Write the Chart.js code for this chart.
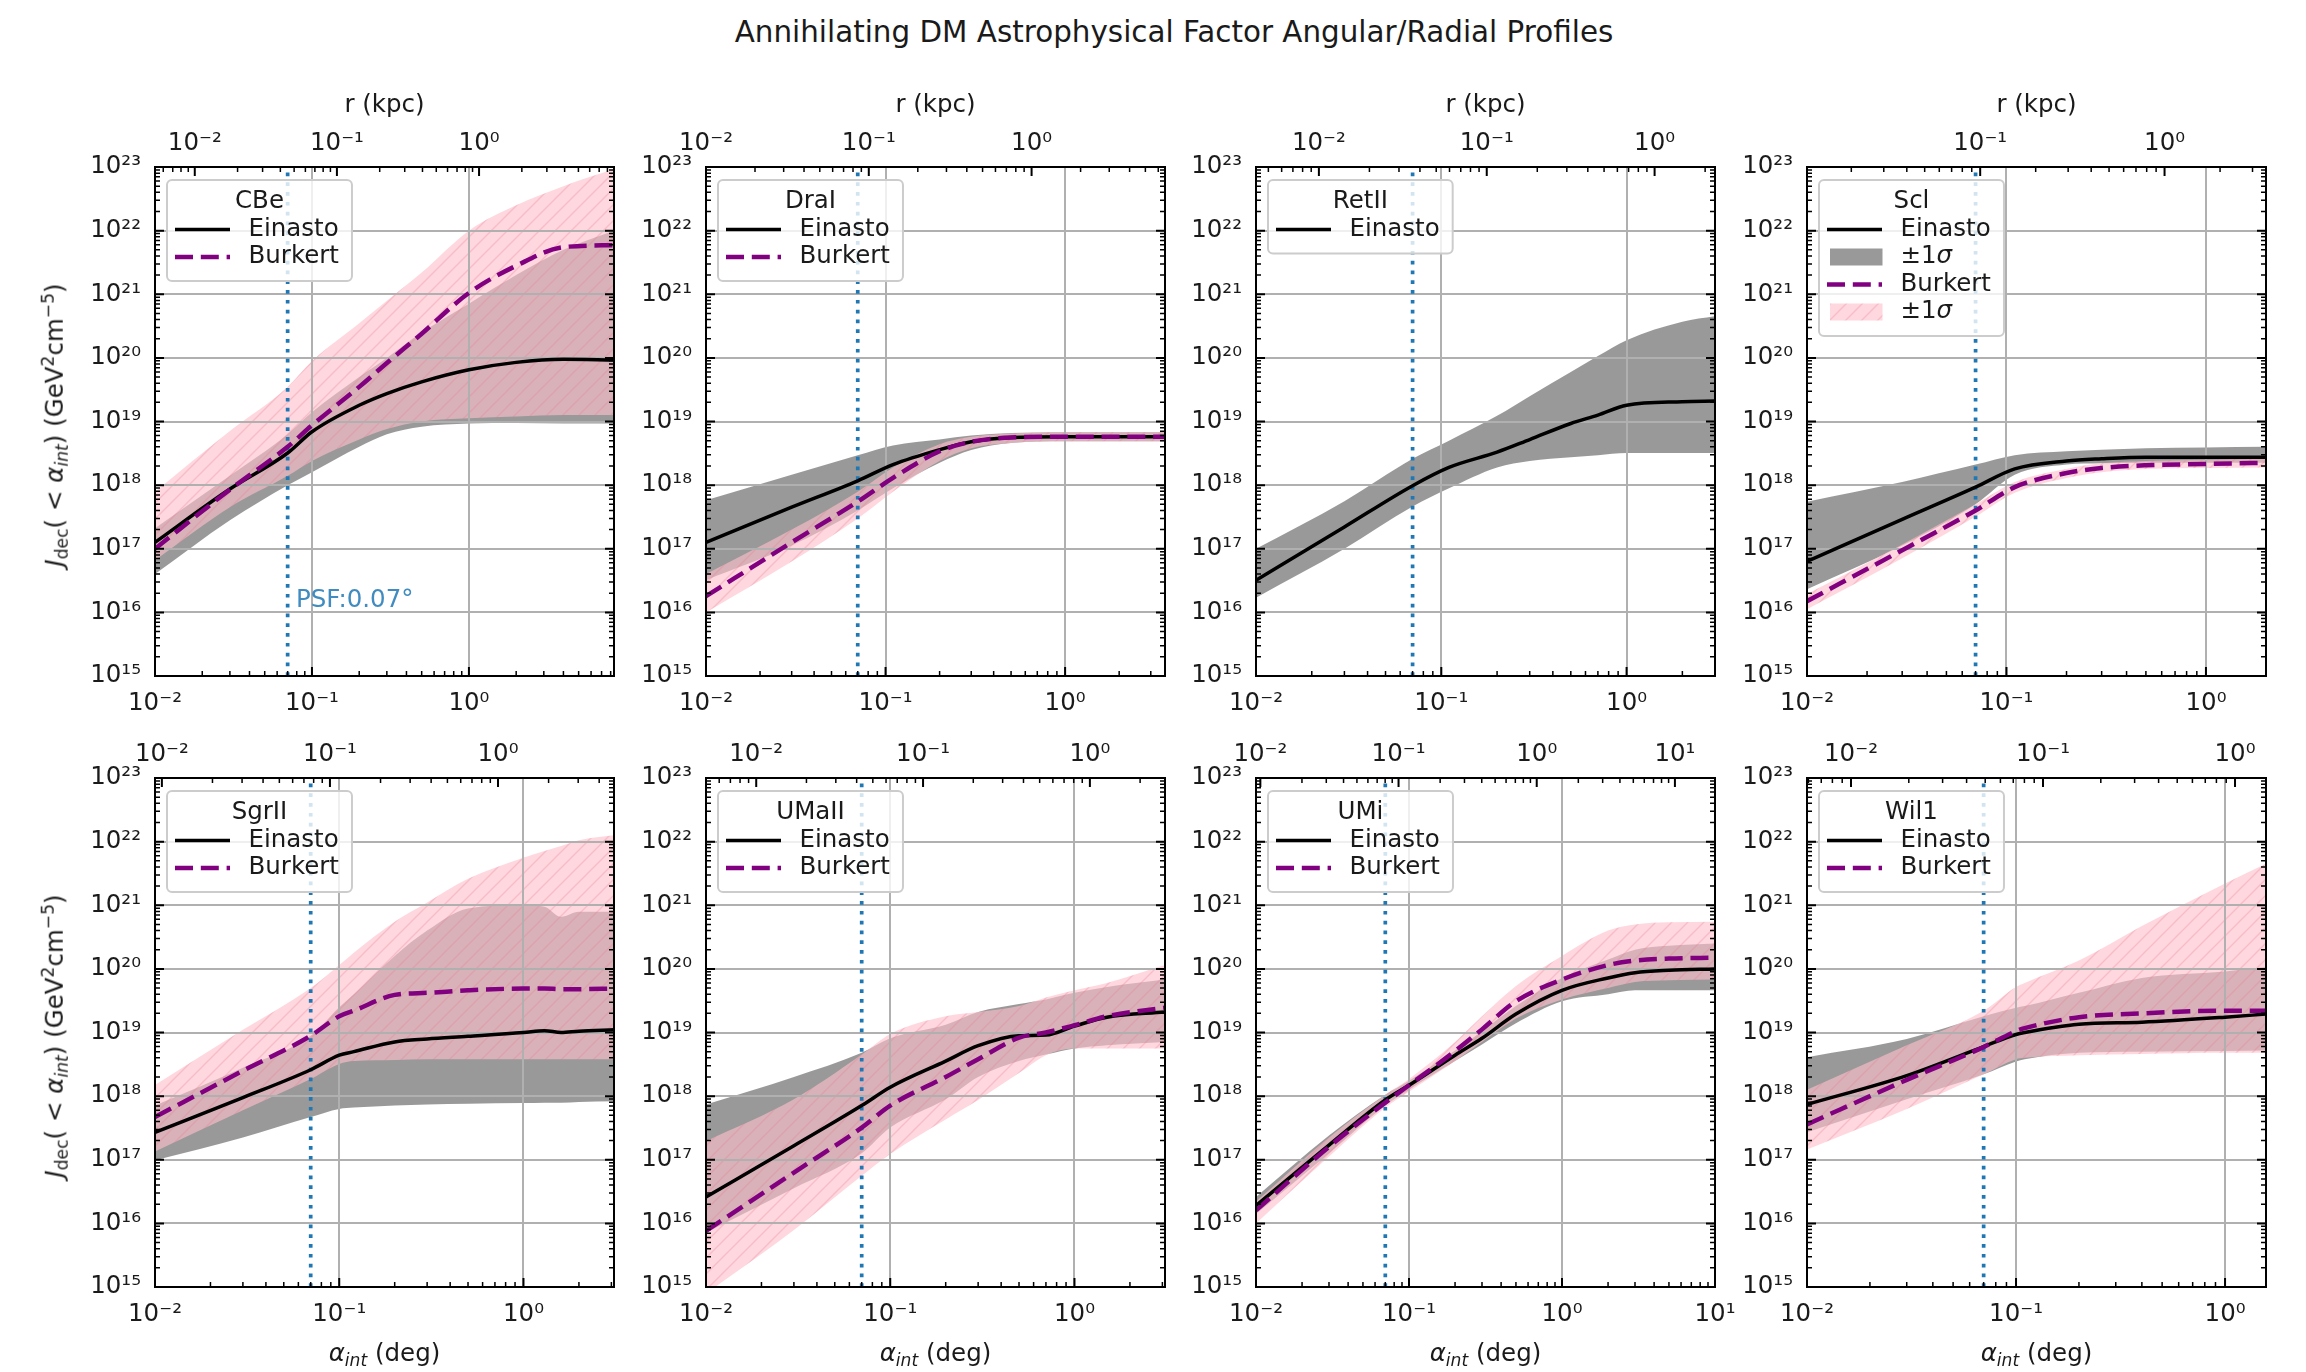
<!DOCTYPE html>
<html>
<head>
<meta charset="utf-8">
<title>Annihilating DM Astrophysical Factor Angular/Radial Profiles</title>
<script src="https://cdn.jsdelivr.net/npm/chart.js@4.4.1/dist/chart.umd.min.js"></script>
<style>
  html, body { margin: 0; padding: 0; background: #fff; }
  body { position: relative; width: 2306px; height: 1372px; overflow: hidden;
         font-family: "DejaVu Sans", sans-serif; color: #1a1a1a; }
  canvas { position: absolute; }
  .txt { position: absolute; white-space: nowrap; line-height: 1; font-size: 24.5px; }
  .txt sub { font-size: 70%; vertical-align: -0.28em; line-height: 0; }
  .txt sup { font-size: 70%; vertical-align: 0.55em; line-height: 0; }
</style>
</head>
<body>
<script>
// ---- values (alpha_int in deg, J in GeV^2 cm^-5) ----
const dwarfs = ['CBe', 'DraI', 'RetII', 'Scl', 'SgrII', 'UMaII', 'UMi', 'Wil1'];
const alphaMax = [8.4, 3.6, 3.0, 2.0, 3.1, 3.1, 10, 1.57];
const rKpcMin = [0.00525, 0.01, 0.00422, 0.0115, 0.0091, 0.0050, 0.0093, 0.0059];
const rKpcMax = [8.9, 6.6, 2.29, 3.55, 4.9, 2.82, 19.5, 1.45];
const psfDeg = 0.07;
const jMin = 1e15, jMax = 1e23;

const cbeX     = [0.01, 0.03, 0.07, 0.1, 0.2, 0.3, 0.5, 1, 2, 4, 8.4];
const cbeEin   = [1.26e17, 8.7e17, 3.2e18, 6.9e18, 1.8e19, 2.75e19, 4.2e19, 6.5e19, 8.5e19, 9.5e19, 9.3e19];
const cbeEinLo = [4.0e16, 2.8e17, 1.0e18, 1.6e18, 4.0e18, 6.3e18, 8.3e18, 9.3e18, 9.5e18, 9.3e18, 9.3e18];
const cbeEinHi = [2.1e17, 1.4e18, 6.3e18, 1.4e19, 5.0e19, 1.0e20, 2.5e20, 7.1e20, 2.0e21, 5.0e21, 1.0e22];
const cbeBur   = [1.0e17, 8.5e17, 4.0e18, 8.7e18, 3.5e19, 8.3e19, 2.4e20, 1.05e21, 2.8e21, 5.5e21, 5.9e21];
const cbeBurLo = [6.6e16, 4.5e17, 1.4e18, 2.4e18, 5.2e18, 7.6e18, 1.0e19, 1.12e19, 1.2e19, 1.26e19, 1.26e19];
const cbeBurHi = [7.9e17, 7.1e18, 3.5e19, 8.9e19, 3.5e20, 7.9e20, 2.2e21, 1.0e22, 2.5e22, 5.0e22, 9.3e22];

const draX     = [0.01, 0.03, 0.07, 0.11, 0.2, 0.3, 0.5, 1, 3.6];
const draEin   = [1.26e17, 4.5e17, 1.17e18, 2.1e18, 3.6e18, 4.8e18, 5.6e18, 5.75e18, 5.75e18];
const draEinLo = [3.2e16, 1.12e17, 4.0e17, 8.9e17, 2.24e18, 3.55e18, 4.6e18, 4.9e18, 4.9e18];
const draEinHi = [5.8e17, 1.45e18, 2.95e18, 4.2e18, 5.2e18, 6.0e18, 6.6e18, 6.8e18, 6.8e18];
const draBur   = [1.8e16, 1.26e17, 5.5e17, 1.3e18, 3.4e18, 4.8e18, 5.6e18, 5.75e18, 5.75e18];
const draBurLo = [1.0e16, 6.3e16, 3.0e17, 7.9e17, 2.4e18, 3.8e18, 4.6e18, 4.9e18, 4.9e18];
const draBurHi = [4.0e16, 2.0e17, 7.9e17, 1.9e18, 4.4e18, 5.75e18, 6.5e18, 6.8e18, 6.8e18];

const retX     = [0.01, 0.03, 0.07, 0.11, 0.2, 0.3, 0.5, 0.7, 1, 2, 3];
const retEin   = [3.2e16, 2.2e17, 9.8e17, 1.9e18, 3.3e18, 5.2e18, 9.3e18, 1.26e19, 1.8e19, 2.05e19, 2.1e19];
const retEinLo = [1.7e16, 1.0e17, 4.6e17, 8.9e17, 1.9e18, 2.4e18, 2.75e18, 2.95e18, 3.2e18, 3.2e18, 3.2e18];
const retEinHi = [1.0e17, 5.6e17, 2.6e18, 5.0e18, 1.23e19, 2.5e19, 6.0e19, 1.07e20, 1.9e20, 3.7e20, 4.5e20];

const sclX     = [0.01, 0.03, 0.07, 0.11, 0.2, 0.3, 0.5, 1, 2];
const sclEin   = [6.3e16, 2.9e17, 9.3e17, 1.8e18, 2.4e18, 2.6e18, 2.75e18, 2.75e18, 2.75e18];
const sclEinLo = [2.3e16, 1.12e17, 5.0e17, 1.45e18, 2.1e18, 2.2e18, 2.24e18, 2.24e18, 2.24e18];
const sclEinHi = [5.5e17, 1.12e18, 2.1e18, 2.95e18, 3.4e18, 3.6e18, 3.8e18, 3.9e18, 4.0e18];
const sclBur   = [1.5e16, 9.5e16, 4.0e17, 9.3e17, 1.55e18, 1.86e18, 2.05e18, 2.15e18, 2.24e18];
const sclBurLo = [1.12e16, 7.1e16, 3.2e17, 7.6e17, 1.3e18, 1.6e18, 1.8e18, 1.86e18, 1.9e18];
const sclBurHi = [1.95e16, 1.17e17, 5.0e17, 1.12e18, 1.8e18, 2.2e18, 2.4e18, 2.5e18, 2.6e18];

const sgrX     = [0.01, 0.03, 0.07, 0.1, 0.12, 0.2, 0.3, 0.5, 1, 1.3, 1.6, 2, 3.1];
const sgrEin   = [2.7e17, 9.5e17, 2.6e18, 4.4e18, 5.0e18, 7.1e18, 7.9e18, 8.7e18, 1.0e19, 1.07e19, 1.0e19, 1.05e19, 1.1e19];
const sgrEinLo = [9.8e16, 2.24e17, 4.7e17, 6.3e17, 6.6e17, 7.1e17, 7.4e17, 7.6e17, 7.8e17, 7.9e17, 7.9e17, 8.1e17, 8.3e17];
const sgrEinHi = [7.1e17, 2.8e18, 8.9e18, 2.5e19, 4.0e19, 1.6e20, 4.0e20, 8.9e20, 1.0e21, 9.5e20, 6.6e20, 7.9e20, 7.9e20];
const sgrBur   = [4.7e17, 2.5e18, 8.9e18, 1.8e19, 2.2e19, 3.9e19, 4.2e19, 4.6e19, 4.9e19, 4.9e19, 4.8e19, 4.8e19, 4.9e19];
const sgrBurLo = [1.35e17, 6.0e17, 1.86e18, 3.2e18, 3.55e18, 3.7e18, 3.8e18, 3.8e18, 3.8e18, 3.8e18, 3.8e18, 3.8e18, 3.8e18];
const sgrBurHi = [1.5e18, 1.1e19, 5.0e19, 1.15e20, 1.8e20, 5.5e20, 1.1e21, 2.6e21, 5.6e21, 7.1e21, 8.5e21, 1.05e22, 1.26e22];

const umaX     = [0.01, 0.03, 0.07, 0.1, 0.2, 0.3, 0.5, 0.7, 1, 1.5, 3.1];
const umaEin   = [2.6e16, 1.66e17, 7.1e17, 1.38e18, 3.55e18, 6.2e18, 8.9e18, 9.1e18, 1.26e19, 1.74e19, 2.1e19];
const umaEinLo = [7.1e15, 3.55e16, 1.26e17, 3.2e17, 8.9e17, 2.0e18, 3.55e18, 4.5e18, 5.6e18, 6.3e18, 7.1e18];
const umaEinHi = [7.4e17, 2.0e18, 4.8e18, 8.1e18, 1.32e19, 2.1e19, 2.8e19, 3.3e19, 4.2e19, 5.2e19, 6.8e19];
const umaBur   = [7.6e15, 6.3e16, 3.2e17, 7.1e17, 2.0e18, 3.8e18, 8.3e18, 1.0e19, 1.3e19, 1.8e19, 2.45e19];
const umaBurLo = [7.9e14, 7.9e15, 5.6e16, 1.23e17, 4.3e17, 8.7e17, 2.3e18, 4.4e18, 5.6e18, 5.6e18, 5.6e18];
const umaBurHi = [1.95e17, 8.9e17, 4.5e18, 9.5e18, 1.8e19, 2.1e19, 2.6e19, 3.55e19, 4.6e19, 6.0e19, 1.15e20];

const umiX     = [0.01, 0.03, 0.07, 0.1, 0.2, 0.3, 0.5, 1, 2, 3, 5, 10];
const umiEin   = [1.9e16, 1.7e17, 8.7e17, 1.48e18, 4.4e18, 8.1e18, 1.95e19, 4.6e19, 7.2e19, 8.7e19, 9.5e19, 1.0e20];
const umiEinLo = [1.4e16, 1.26e17, 7.1e17, 1.26e18, 3.55e18, 6.5e18, 1.4e19, 3.1e19, 4.0e19, 4.6e19, 4.6e19, 4.6e19];
const umiEinHi = [2.6e16, 2.4e17, 1.05e18, 1.74e18, 5.2e18, 1.05e19, 2.6e19, 7.2e19, 1.4e20, 2.0e20, 2.3e20, 2.5e20];
const umiBur   = [1.6e16, 1.6e17, 7.9e17, 1.48e18, 5.1e18, 1.12e19, 3.1e19, 6.8e19, 1.15e20, 1.35e20, 1.45e20, 1.5e20];
const umiBurLo = [1.0e16, 1.12e17, 6.6e17, 1.17e18, 3.55e18, 7.1e18, 1.66e19, 3.3e19, 5.0e19, 6.2e19, 6.6e19, 6.8e19];
const umiBurHi = [2.2e16, 2.24e17, 1.05e18, 1.86e18, 7.1e18, 1.8e19, 5.4e19, 1.6e20, 4.0e20, 5.0e20, 5.4e20, 5.5e20];

const wilX     = [0.01, 0.03, 0.07, 0.1, 0.11, 0.2, 0.4, 1, 1.57];
const wilEin   = [7.4e17, 2.1e18, 6.0e18, 9.3e18, 1.0e19, 1.35e19, 1.45e19, 1.74e19, 1.95e19];
const wilEinLo = [2.7e17, 8.9e17, 2.2e18, 3.5e18, 3.8e18, 4.8e18, 5.0e18, 5.1e18, 5.2e18];
const wilEinHi = [4.1e18, 7.9e18, 1.8e19, 2.45e19, 2.6e19, 4.2e19, 7.2e19, 9.1e19, 1.07e20];
const wilBur   = [3.6e17, 1.8e18, 5.9e18, 1.05e19, 1.17e19, 1.74e19, 2.0e19, 2.2e19, 2.2e19];
const wilBurLo = [1.45e17, 6.3e17, 2.2e18, 3.8e18, 4.0e18, 4.4e18, 4.6e18, 4.8e18, 4.8e18];
const wilBurHi = [1.26e18, 6.3e18, 2.2e19, 5.2e19, 6.0e19, 1.35e20, 4.7e20, 2.2e21, 4.5e21];

const curves = [
  { x: cbeX, ein: cbeEin, einLo: cbeEinLo, einHi: cbeEinHi, bur: cbeBur, burLo: cbeBurLo, burHi: cbeBurHi },
  { x: draX, ein: draEin, einLo: draEinLo, einHi: draEinHi, bur: draBur, burLo: draBurLo, burHi: draBurHi },
  { x: retX, ein: retEin, einLo: retEinLo, einHi: retEinHi },
  { x: sclX, ein: sclEin, einLo: sclEinLo, einHi: sclEinHi, bur: sclBur, burLo: sclBurLo, burHi: sclBurHi },
  { x: sgrX, ein: sgrEin, einLo: sgrEinLo, einHi: sgrEinHi, bur: sgrBur, burLo: sgrBurLo, burHi: sgrBurHi },
  { x: umaX, ein: umaEin, einLo: umaEinLo, einHi: umaEinHi, bur: umaBur, burLo: umaBurLo, burHi: umaBurHi },
  { x: umiX, ein: umiEin, einLo: umiEinLo, einHi: umiEinHi, bur: umiBur, burLo: umiBurLo, burHi: umiBurHi },
  { x: wilX, ein: wilEin, einLo: wilEinLo, einHi: wilEinHi, bur: wilBur, burLo: wilBurLo, burHi: wilBurHi },
];

// ---- layout (px) ----
const PLOT_W = 459, PLOT_H = 509;
const PAD_L = 130, PAD_R = 45, PAD_T = 110, PAD_B = 90;
const colLeft = [155, 706, 1256, 1807];
const rowTop = [167, 778];
const FONT = '24.5px "DejaVu Sans"';
const FONT_IT = 'oblique 24.5px "DejaVu Sans"';
const INK = '#1a1a1a';

Chart.defaults.font.family = '"DejaVu Sans"';
Chart.defaults.font.size = 24.5;
Chart.defaults.color = INK;

const SUP = { '-': '⁻', '0': '⁰', '1': '¹', '2': '²', '3': '³', '4': '⁴', '5': '⁵', '6': '⁶', '7': '⁷', '8': '⁸', '9': '⁹' };
const powLabel = v => '10' + String(Math.round(Math.log10(v))).split('').map(c => SUP[c]).join('');

function logTicks(min, max) {
  const major = [], minor = [];
  for (let e = Math.floor(Math.log10(min)); e <= Math.ceil(Math.log10(max)); e++) {
    for (let m = 1; m <= 9; m++) {
      const v = m * Math.pow(10, e);
      if (v < min * 0.9999 || v > max * 1.0001) continue;
      (m === 1 ? major : minor).push(v);
    }
  }
  return { major, minor };
}

function hatchPattern() {
  const c = document.createElement('canvas');
  c.width = c.height = 16;
  const g = c.getContext('2d');
  g.fillStyle = 'rgba(255,192,203,0.63)';
  g.fillRect(0, 0, 16, 16);
  g.strokeStyle = 'rgba(232,125,150,0.3)';
  g.lineWidth = 1.4;
  g.beginPath();
  g.moveTo(-2, 18); g.lineTo(18, -2);
  g.moveTo(-6, 6); g.lineTo(6, -6);
  g.moveTo(10, 22); g.lineTo(22, 10);
  g.stroke();
  return g.createPattern(c, 'repeat');
}
const PINK_HATCH = hatchPattern();
const BAND_GRAY = 'rgba(128,128,128,0.8)';

// gridlines above the bands, below the curves (matplotlib default zorder)
const gridAbove = {
  id: 'gridAbove',
  beforeDatasetsDraw(chart) {
    const { ctx, chartArea: a, scales: { x, y } } = chart;
    ctx.save();
    ctx.strokeStyle = '#b0b0b0';
    ctx.lineWidth = 2;
    ctx.beginPath();
    logTicks(x.min, x.max).major.forEach(v => {
      const p = Math.round(x.getPixelForValue(v));
      ctx.moveTo(p, a.top); ctx.lineTo(p, a.bottom);
    });
    logTicks(y.min, y.max).major.forEach(v => {
      const p = Math.round(y.getPixelForValue(v));
      ctx.moveTo(a.left, p); ctx.lineTo(a.right, p);
    });
    ctx.stroke();
    ctx.restore();
  }
};

// frame plus inward major/minor ticks on all four sides
const frameTicks = {
  id: 'frameTicks',
  afterDatasetsDraw(chart) {
    const { ctx, chartArea: a, scales: { x, x2, y } } = chart;
    ctx.save();
    ctx.strokeStyle = '#000';
    const mark = (list, len, lw, fn) => {
      ctx.lineWidth = lw;
      ctx.beginPath();
      list.forEach(fn(len));
      ctx.stroke();
    };
    const bottom = len => v => { const p = x.getPixelForValue(v); ctx.moveTo(p, a.bottom); ctx.lineTo(p, a.bottom - len); };
    const top = len => v => { const p = x2.getPixelForValue(v); ctx.moveTo(p, a.top); ctx.lineTo(p, a.top + len); };
    const side = len => v => {
      const p = y.getPixelForValue(v);
      ctx.moveTo(a.left, p); ctx.lineTo(a.left + len, p);
      ctx.moveTo(a.right, p); ctx.lineTo(a.right - len, p);
    };
    const tx = logTicks(x.min, x.max), tt = logTicks(x2.min, x2.max), ty = logTicks(y.min, y.max);
    mark(tx.major, 9, 2, bottom); mark(tx.minor, 5, 1.5, bottom);
    mark(tt.major, 9, 2, top); mark(tt.minor, 5, 1.5, top);
    mark(ty.major, 9, 2, side); mark(ty.minor, 5, 1.5, side);
    ctx.lineWidth = 2;
    ctx.strokeRect(a.left, a.top, a.right - a.left, a.bottom - a.top);
    ctx.restore();
  }
};

// label text with an oblique sigma, like mathtext "$\pm1\sigma$"
function drawLabel(ctx, text, x, y) {
  const k = text.indexOf('σ');
  if (k < 0) { ctx.fillText(text, x, y); return; }
  const head = text.slice(0, k);
  ctx.fillText(head, x, y);
  const w = ctx.measureText(head).width;
  ctx.save();
  ctx.font = FONT_IT;
  ctx.fillText('σ', x + w, y);
  ctx.restore();
}

// matplotlib-like legend box in the upper left corner, plus the PSF note
const mplLegend = {
  id: 'mplLegend',
  afterDraw(chart, args, opts) {
    const { ctx, chartArea: a } = chart;
    ctx.save();
    ctx.font = FONT;
    if (opts.psfNote) {
      const [nx, ny] = opts.psfNote;
      ctx.fillStyle = 'rgba(31,119,180,0.85)';
      ctx.textBaseline = 'middle';
      ctx.fillText('PSF:0.07°', chart.scales.x.getPixelForValue(nx), chart.scales.y.getPixelForValue(ny));
    }
    const items = chart.data.datasets.filter(d => d.legendKind);
    const textW = Math.max(...items.map(d => ctx.measureText(d.label).width));
    const w = Math.max(81.5 + textW + 13, ctx.measureText(opts.title).width + 26);
    const h = 22 + 27.5 * items.length + 24;
    const bx = a.left + 12, by = a.top + 13;
    ctx.beginPath();
    ctx.roundRect(bx, by, w, h, 5);
    ctx.fillStyle = 'rgba(255,255,255,0.8)';
    ctx.fill();
    ctx.strokeStyle = '#cccccc';
    ctx.lineWidth = 2;
    ctx.stroke();
    ctx.fillStyle = INK;
    ctx.textBaseline = 'middle';
    ctx.textAlign = 'center';
    ctx.fillText(opts.title, bx + w / 2, by + 22);
    ctx.textAlign = 'left';
    items.forEach((d, k) => {
      const cy = by + 22 + 27.5 * (k + 1);
      if (d.legendKind === 'line') {
        ctx.save();
        ctx.strokeStyle = d.borderColor;
        ctx.lineWidth = d.borderWidth;
        ctx.setLineDash(d.borderDash || []);
        ctx.beginPath(); ctx.moveTo(bx + 8, cy); ctx.lineTo(bx + 63, cy); ctx.stroke();
        ctx.restore();
      } else {
        ctx.fillStyle = d.backgroundColor;
        ctx.fillRect(bx + 11, cy - 8.5, 52.5, 17);
      }
      ctx.fillStyle = INK;
      drawLabel(ctx, d.label, bx + 81.5, cy);
    });
    ctx.restore();
  }
};

const pts = (xs, ys) => xs.map((x, i) => ({ x, y: ys[i] }));
const base = { showLine: true, pointRadius: 0, pointHoverRadius: 0, fill: false, clip: 0,
               cubicInterpolationMode: 'monotone' };

function buildDatasets(c, withBandLegend) {
  const ds = [
    { ...base, label: 'Einasto', data: pts(c.x, c.ein), borderColor: '#000', borderWidth: 3.5, order: 1, legendKind: 'line' },
    { ...base, label: '±1σ', data: pts(c.x, c.einHi), fill: '+1', backgroundColor: BAND_GRAY,
      borderWidth: 0, borderColor: 'transparent', order: 3, legendKind: withBandLegend ? 'patch' : null },
    { ...base, data: pts(c.x, c.einLo), borderWidth: 0, borderColor: 'transparent', order: 3 },
  ];
  if (c.bur) {
    ds.push(
      { ...base, label: 'Burkert', data: pts(c.x, c.bur), borderColor: '#800080', borderWidth: 4.5,
        borderDash: [18, 7.8], order: 0, legendKind: 'line' },
      { ...base, label: '±1σ', data: pts(c.x, c.burHi), fill: '+1', backgroundColor: PINK_HATCH,
        borderWidth: 0, borderColor: 'transparent', order: 2, legendKind: withBandLegend ? 'patch' : null },
      { ...base, data: pts(c.x, c.burLo), borderWidth: 0, borderColor: 'transparent', order: 2 }
    );
  }
  ds.push({ ...base, cubicInterpolationMode: 'default', data: [{ x: psfDeg, y: jMin }, { x: psfDeg, y: jMax }],
            borderColor: '#1f77b4', borderWidth: 3.7, borderDash: [3.7, 6.1], order: 1.5 });
  return ds;
}

const decadeTicks = s => { s.ticks = logTicks(s.min, s.max).major.map(v => ({ value: v })); };
const tickOpts = pad => ({ autoSkip: false, maxRotation: 0, padding: pad, callback: v => powLabel(v), color: INK });

function addText(html, left, top, extra) {
  const d = document.createElement('div');
  d.className = 'txt';
  d.innerHTML = html;
  d.style.left = left + 'px';
  d.style.top = top + 'px';
  Object.assign(d.style, extra || {});
  document.body.appendChild(d);
}

curves.forEach((c, i) => {
  const col = i % 4, row = Math.floor(i / 4);
  const L = colLeft[col], T = rowTop[row];
  const cv = document.createElement('canvas');
  cv.width = PAD_L + PLOT_W + PAD_R;
  cv.height = PAD_T + PLOT_H + PAD_B;
  cv.style.left = (L - PAD_L) + 'px';
  cv.style.top = (T - PAD_T) + 'px';
  document.body.appendChild(cv);

  new Chart(cv, {
    type: 'scatter',
    data: { datasets: buildDatasets(c, dwarfs[i] === 'Scl') },
    options: {
      responsive: false, animation: false, devicePixelRatio: 1, events: [],
      layout: { padding: { left: 0, right: PAD_R, top: 0, bottom: 0 } },
      plugins: {
        legend: { display: false }, tooltip: { enabled: false },
        filler: { drawTime: 'beforeDatasetsDraw' },
        mplLegend: { title: dwarfs[i], psfNote: i === 0 ? [0.079, 1.55e16] : null }
      },
      scales: {
        x: {
          type: 'logarithmic', position: 'bottom', min: 0.01, max: alphaMax[i], bounds: 'data',
          afterBuildTicks: decadeTicks,
          afterFit: s => { s.height = PAD_B; s.paddingLeft = 0; s.paddingRight = 0; },
          grid: { display: false, drawTicks: false }, border: { display: false },
          ticks: tickOpts(13)
        },
        x2: {
          type: 'logarithmic', axis: 'x', position: 'top', min: rKpcMin[i], max: rKpcMax[i], bounds: 'data',
          afterBuildTicks: decadeTicks,
          afterFit: s => { s.height = PAD_T; s.paddingLeft = 0; s.paddingRight = 0; },
          grid: { display: false, drawTicks: false }, border: { display: false },
          ticks: tickOpts(9)
        },
        y: {
          type: 'logarithmic', position: 'left', min: jMin, max: jMax, bounds: 'data',
          afterBuildTicks: decadeTicks,
          afterFit: s => { s.width = PAD_L; s.paddingTop = 0; s.paddingBottom = 0; },
          grid: { display: false, drawTicks: false }, border: { display: false },
          ticks: tickOpts(14)
        }
      }
    },
    plugins: [gridAbove, frameTicks, mplLegend]
  });

  const cx = L + PLOT_W / 2;
  if (row === 0) addText('r (kpc)', cx, T - 75, { transform: 'translateX(-50%)' });
  if (row === 1) addText('<i>α<sub>int</sub></i> (deg)', cx, T + PLOT_H + 54, { transform: 'translateX(-50%)' });
  if (col === 0) {
    addText('<i>J</i><sub>dec</sub>( &lt; <i>α<sub>int</sub></i>) (GeV<sup>2</sup>cm<sup>−5</sup>)',
            55, T + PLOT_H / 2 + 3, { transform: 'translate(-50%, -50%) rotate(-90deg)' });
  }
});

addText('Annihilating DM Astrophysical Factor Angular/Radial Profiles', 1174, 18,
        { transform: 'translateX(-50%)', fontSize: '29.4px' });
</script>
</body>
</html>
